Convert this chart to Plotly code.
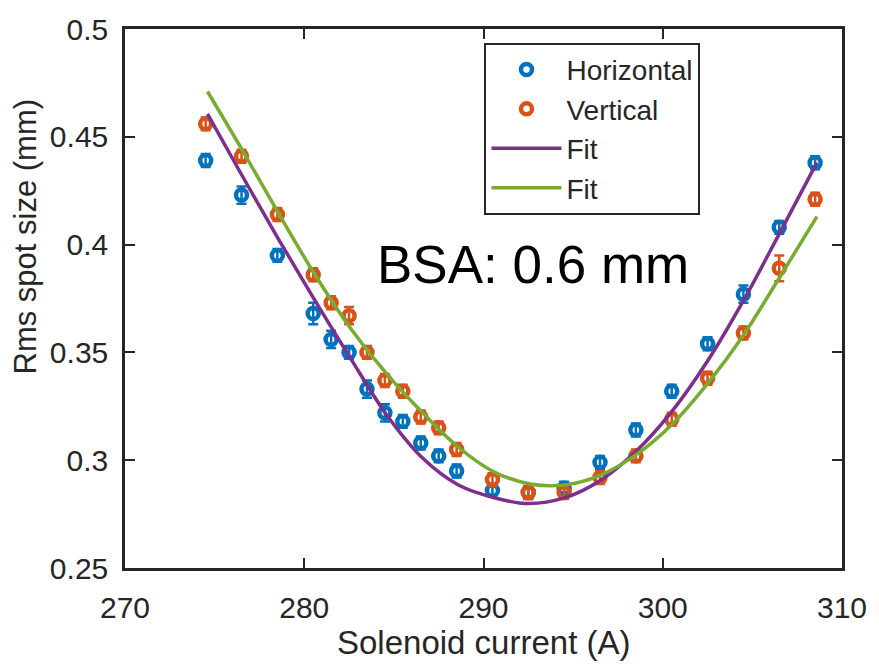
import plotly.graph_objects as go

current = [274.5, 276.5, 278.5, 280.5, 281.5, 282.5, 283.5, 284.5, 285.5, 286.5, 287.5,
           288.5, 290.5, 292.5, 294.5, 296.5, 298.5, 300.5, 302.5, 304.5, 306.5, 308.5]
horizontal = [0.439, 0.423, 0.395, 0.368, 0.356, 0.350, 0.333, 0.322, 0.318, 0.308, 0.302,
              0.295, 0.286, 0.285, 0.287, 0.299, 0.314, 0.332, 0.354, 0.377, 0.408, 0.438]
horizontal_err = [0.003, 0.004, 0.003, 0.005, 0.004, 0.003, 0.004, 0.004, 0.003, 0.003, 0.003,
                  0.003, 0.003, 0.003, 0.003, 0.003, 0.003, 0.003, 0.003, 0.004, 0.003, 0.003]
vertical = [0.456, 0.441, 0.414, 0.386, 0.373, 0.367, 0.350, 0.337, 0.332, 0.320, 0.315,
            0.305, 0.291, 0.285, 0.285, 0.292, 0.302, 0.319, 0.338, 0.359, 0.389, 0.421]
vertical_err = [0.003, 0.003, 0.003, 0.003, 0.003, 0.004, 0.003, 0.003, 0.003, 0.003, 0.003,
                0.003, 0.003, 0.003, 0.003, 0.003, 0.003, 0.003, 0.003, 0.003, 0.006, 0.003]

fit_h_x = [274.6, 276.6, 278.6, 280.6, 282.6, 284.6, 286.6, 288.6, 290.6, 292.5,
           294.5, 296.5, 298.5, 300.5, 302.5, 304.5, 306.5, 308.6]
fit_h_y = [0.4606, 0.4310, 0.4020, 0.3740, 0.3470, 0.3210, 0.3010, 0.2885, 0.2826, 0.2799,
           0.2825, 0.2905, 0.3040, 0.3225, 0.3460, 0.3740, 0.4050, 0.4380]
fit_v_x = [274.6, 276.6, 278.6, 280.6, 282.6, 284.6, 286.6, 288.6, 290.6, 292.6,
           294.5, 296.5, 298.5, 300.5, 302.5, 304.5, 306.5, 308.6]
fit_v_y = [0.4710, 0.4430, 0.4140, 0.3860, 0.3610, 0.3400, 0.3220, 0.3060, 0.2945, 0.2890,
           0.2885, 0.2930, 0.3025, 0.3165, 0.3355, 0.3580, 0.3845, 0.4130]

x_ticks = [270, 280, 290, 300, 310]
y_ticks = [0.25, 0.3, 0.35, 0.4, 0.45, 0.5]

BLUE = "#0072BD"
ORANGE = "#D95319"
PURPLE = "#7E2F8E"
GREEN = "#77AC30"
AX = "#262626"
FONT = "Liberation Sans, Arial, sans-serif"

L, R, T, B = 125, 30, 20, 98
W, H = 879, 666
pw, ph = W - L - R, H - T - B

fig = go.Figure()
fig.add_trace(go.Scatter(
    x=current, y=horizontal, mode="markers", name="Horizontal", legendgroup="a",
    marker=dict(symbol="circle-open", size=11, color=BLUE, line=dict(width=4.5, color=BLUE)),
    error_y=dict(type="data", array=horizontal_err, color=BLUE, thickness=2.5, width=5)))
fig.add_trace(go.Scatter(
    x=current, y=vertical, mode="markers", name="Vertical", legendgroup="b",
    marker=dict(symbol="circle-open", size=11, color=ORANGE, line=dict(width=4.5, color=ORANGE)),
    error_y=dict(type="data", array=vertical_err, color=ORANGE, thickness=2.5, width=5)))
fig.add_trace(go.Scatter(
    x=fit_h_x, y=fit_h_y, mode="lines", name="Fit", legendgroup="c",
    line=dict(color=PURPLE, width=3.5, shape="spline", smoothing=1.0)))
fig.add_trace(go.Scatter(
    x=fit_v_x, y=fit_v_y, mode="lines", name="Fit", legendgroup="d",
    line=dict(color=GREEN, width=3.5, shape="spline", smoothing=1.0)))

axis_common = dict(
    showgrid=False, zeroline=False, showline=True, linecolor=AX, linewidth=2.5,
    mirror="ticks", ticks="inside", ticklen=10, tickwidth=2, tickcolor=AX,
    tickfont=dict(family=FONT, size=30, color=AX),
)
fig.update_xaxes(range=[270, 310], tickvals=x_ticks, ticklabelstandoff=11, **axis_common)
fig.update_yaxes(range=[0.25, 0.5], tickvals=y_ticks, ticktext=[str(v) for v in y_ticks],
                 ticklabelstandoff=8, **axis_common)

fig.add_annotation(x=(487 - L) / pw, y=(H - B - 644) / ph, xref="paper", yref="paper",
                   text="Solenoid current (A)", showarrow=False,
                   xanchor="center", yanchor="middle",
                   font=dict(family=FONT, size=33, color=AX))
fig.add_annotation(x=(25 - L) / pw, y=(H - B - 231) / ph, xref="paper", yref="paper",
                   text="Rms spot size (mm)", showarrow=False, textangle=-90,
                   xanchor="center", yanchor="middle",
                   font=dict(family=FONT, size=31, color=AX))
fig.add_annotation(x=(537 - L) / pw, y=(H - B - 259) / ph, xref="paper", yref="paper",
                   text="BSA: 0.6 mm", showarrow=False,
                   xanchor="center", yanchor="middle",
                   font=dict(family=FONT, size=53, color="black"))

fig.update_layout(
    width=W, height=H, autosize=False,
    margin=dict(l=L, r=R, t=T, b=B),
    plot_bgcolor="white", paper_bgcolor="white",
    legend=dict(x=(488 - L) / pw, y=1 - (34 - T) / ph, xanchor="left", yanchor="top",
                bordercolor=AX, borderwidth=2, bgcolor="white",
                font=dict(family=FONT, size=28, color=AX),
                tracegroupgap=0, itemwidth=70, traceorder="grouped"),
)

fig.write_html("out.html")
